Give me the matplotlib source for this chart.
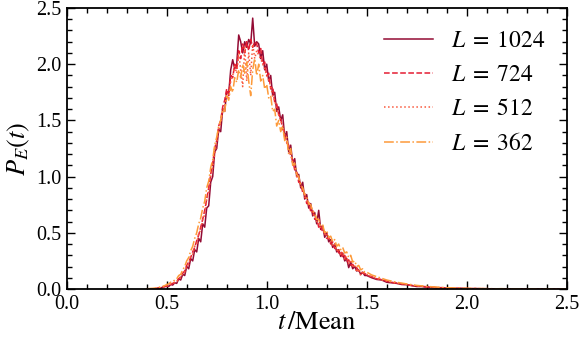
import numpy as np
import matplotlib
matplotlib.use("Agg")
import matplotlib.pyplot as plt
from matplotlib.ticker import MultipleLocator

# bin centres: fine bins in the core, coarser in the right tail
t_core = np.round(np.arange(0.40, 1.505, 0.01), 3)
t_tail = np.round(np.arange(1.525, 2.501, 0.025), 3)
t = np.concatenate([t_core, t_tail])

labels = [r"$L\;=\;1024$", r"$L\;=\;724$", r"$L\;=\;512$", r"$L\;=\;362$"]

p1024_core = [
    0, 0, 0, 0, 0, 0.004, 0.01, 0.006, 0.018, 0.02,
    0.03, 0.022, 0.04, 0.035, 0.055, 0.05, 0.09, 0.08, 0.13, 0.12,
    0.2, 0.18, 0.27, 0.25, 0.35, 0.33, 0.45, 0.42, 0.58, 0.55,
    0.72, 0.74, 0.95, 1.0, 1.22, 1.25, 1.42, 1.4, 1.6, 1.58,
    1.76, 1.74, 1.95, 2.04, 1.96, 2.0, 2.26, 2.2, 2.1, 2.2,
    2.15, 2.22, 2.18, 2.41, 2.16, 2.2, 2.18, 2.05, 2.12, 1.95,
    2.0, 1.85, 1.9, 1.72, 1.75, 1.58, 1.62, 1.5, 1.55, 1.35,
    1.4, 1.22, 1.28, 1.12, 1.16, 1.0, 1.02, 0.9, 0.95, 0.8,
    0.84, 0.72, 0.76, 0.65, 0.68, 0.58, 0.7, 0.53, 0.56, 0.46,
    0.5, 0.42, 0.44, 0.37, 0.4, 0.33, 0.35, 0.29, 0.32, 0.25,
    0.27, 0.19, 0.24, 0.18, 0.2, 0.16, 0.17, 0.13, 0.15, 0.12,
    0.12]
p1024_tail = [
    0.10, 0.085, 0.08, 0.06, 0.055, 0.05, 0.04, 0.038, 0.03, 0.022,
    0.022, 0.016, 0.015, 0.01, 0.012, 0.007, 0.008, 0.005, 0.006, 0.004,
    0.003, 0.004, 0.002, 0.003, 0.001, 0.002, 0.002, 0.001, 0.0, 0.002,
    0.001, 0.0, 0.001, 0.0, 0.001, 0.0, 0.001, 0.0, 0.0, 0.0]

p724_core = [
    0, 0, 0, 0, 0.002, 0.006, 0.008, 0.012, 0.015, 0.025,
    0.022, 0.035, 0.04, 0.05, 0.06, 0.07, 0.09, 0.11, 0.14, 0.16,
    0.21, 0.24, 0.28, 0.33, 0.37, 0.43, 0.48, 0.55, 0.62, 0.7,
    0.8, 0.9, 1.02, 1.12, 1.25, 1.32, 1.45, 1.5, 1.62, 1.68,
    1.78, 1.72, 1.9, 1.88, 2.0, 1.95, 2.12, 2.05, 2.18, 2.1,
    2.2, 2.12, 2.22, 2.15, 2.2, 2.18, 2.1, 2.14, 2.0, 2.02,
    1.9, 1.92, 1.78, 1.8, 1.66, 1.65, 1.55, 1.52, 1.42, 1.4,
    1.3, 1.28, 1.18, 1.15, 1.06, 1.05, 0.95, 0.94, 0.86, 0.85,
    0.76, 0.77, 0.69, 0.7, 0.62, 0.63, 0.55, 0.57, 0.5, 0.51,
    0.45, 0.46, 0.4, 0.42, 0.36, 0.37, 0.32, 0.34, 0.28, 0.3,
    0.24, 0.26, 0.21, 0.22, 0.19, 0.19, 0.16, 0.16, 0.14, 0.14,
    0.12]
p724_tail = [
    0.11, 0.09, 0.085, 0.07, 0.06, 0.052, 0.045, 0.04, 0.032, 0.028,
    0.024, 0.02, 0.016, 0.013, 0.011, 0.009, 0.007, 0.006, 0.005, 0.004,
    0.004, 0.003, 0.003, 0.002, 0.002, 0.001, 0.002, 0.001, 0.001, 0.0,
    0.001, 0.001, 0.0, 0.001, 0.0, 0.0, 0.001, 0.0, 0.0, 0.0]

p512_core = [
    0, 0, 0, 0.002, 0.003, 0.005, 0.01, 0.012, 0.02, 0.018,
    0.03, 0.03, 0.045, 0.045, 0.06, 0.065, 0.09, 0.1, 0.14, 0.15,
    0.2, 0.22, 0.3, 0.31, 0.38, 0.4, 0.5, 0.52, 0.62, 0.66,
    0.8, 0.86, 1.0, 1.08, 1.2, 1.3, 1.4, 1.48, 1.58, 1.62,
    1.72, 1.7, 1.85, 1.9, 1.98, 1.92, 2.1, 1.95, 1.8, 2.15,
    1.85, 2.1, 1.9, 2.18, 2.05, 2.12, 2.08, 2.05, 2.0, 1.96,
    1.9, 1.86, 1.8, 1.72, 1.68, 1.6, 1.55, 1.5, 1.45, 1.36,
    1.32, 1.25, 1.2, 1.12, 1.1, 1.0, 1.0, 0.92, 0.9, 0.82,
    0.8, 0.74, 0.72, 0.66, 0.66, 0.6, 0.6, 0.54, 0.55, 0.48,
    0.5, 0.44, 0.43, 0.38, 0.4, 0.34, 0.36, 0.3, 0.33, 0.26,
    0.29, 0.22, 0.26, 0.2, 0.21, 0.15, 0.18, 0.12, 0.16, 0.13,
    0.13]
p512_tail = [
    0.11, 0.095, 0.08, 0.072, 0.06, 0.05, 0.048, 0.04, 0.033, 0.028,
    0.025, 0.02, 0.017, 0.014, 0.012, 0.01, 0.008, 0.007, 0.006, 0.005,
    0.004, 0.004, 0.003, 0.003, 0.002, 0.002, 0.001, 0.002, 0.001, 0.001,
    0.0, 0.001, 0.001, 0.0, 0.0, 0.001, 0.0, 0.0, 0.001, 0.0]

p362_core = [
    0.002, 0.003, 0.005, 0.006, 0.008, 0.01, 0.015, 0.02, 0.025, 0.03,
    0.04, 0.045, 0.06, 0.065, 0.08, 0.09, 0.12, 0.13, 0.17, 0.2,
    0.25, 0.28, 0.34, 0.38, 0.45, 0.5, 0.58, 0.63, 0.72, 0.78,
    0.9, 0.96, 1.08, 1.15, 1.28, 1.35, 1.45, 1.5, 1.6, 1.58,
    1.72, 1.68, 1.8, 1.75, 1.88, 1.84, 1.95, 1.88, 2.0, 1.92,
    2.02, 1.85, 1.72, 1.95, 2.05, 1.9, 2.0, 1.85, 1.9, 1.78,
    1.82, 1.7, 1.72, 1.58, 1.6, 1.45, 1.5, 1.4, 1.45, 1.32,
    1.35, 1.2, 1.25, 1.1, 1.12, 1.02, 1.0, 0.92, 0.9, 0.84,
    0.82, 0.76, 0.75, 0.69, 0.68, 0.62, 0.62, 0.56, 0.57, 0.5,
    0.52, 0.46, 0.47, 0.42, 0.44, 0.38, 0.4, 0.35, 0.37, 0.32,
    0.33, 0.28, 0.3, 0.24, 0.25, 0.2, 0.21, 0.17, 0.18, 0.15,
    0.15]
p362_tail = [
    0.125, 0.11, 0.095, 0.08, 0.07, 0.06, 0.052, 0.045, 0.038, 0.032,
    0.028, 0.024, 0.02, 0.017, 0.014, 0.012, 0.01, 0.009, 0.007, 0.006,
    0.005, 0.005, 0.004, 0.003, 0.003, 0.002, 0.003, 0.002, 0.001, 0.002,
    0.001, 0.001, 0.002, 0.001, 0.0, 0.001, 0.001, 0.0, 0.001, 0.0]

series = [p1024_core + p1024_tail, p724_core + p724_tail,
          p512_core + p512_tail, p362_core + p362_tail]

colors = ["#930b34", "#e41d33", "#f9583c", "#fd9a3a"]
styles = ["-", "--", ":", "-."]

plt.rcParams["font.family"] = ["Liberation Serif", "DejaVu Serif"]
plt.rcParams["mathtext.fontset"] = "stix"

fig = plt.figure(figsize=(5.81, 3.45), dpi=100)
ax = fig.add_axes([0.1148, 0.1623, 0.8606, 0.8145])

for y, c, ls, lab in zip(series, colors, styles, labels):
    ax.plot(t, np.array(y), color=c, ls=ls, lw=1.1, label=lab)

ax.set_xlim(0, 2.5)
ax.set_ylim(0, 2.5)
ax.xaxis.set_major_locator(MultipleLocator(0.5))
ax.xaxis.set_minor_locator(MultipleLocator(0.1))
ax.yaxis.set_major_locator(MultipleLocator(0.5))
ax.yaxis.set_minor_locator(MultipleLocator(0.1))
ax.tick_params(which="both", direction="in", top=True, right=True,
               labelsize=14.5, width=1.0)
ax.tick_params(which="major", length=6, pad=4)
ax.tick_params(which="minor", length=3.5)
for s in ax.spines.values():
    s.set_linewidth(1.3)

ax.set_xlabel(r"$t\,/\mathrm{Mean}$", fontsize=19, labelpad=-1)
ax.set_ylabel(r"$P_E(t)$", fontsize=19, labelpad=3)

ax.legend(loc="upper right", frameon=False, fontsize=17,
          handlelength=2.1, handletextpad=0.75, labelspacing=0.53,
          bbox_to_anchor=(1.0, 0.995))

fig.savefig("out.png", dpi=100)
